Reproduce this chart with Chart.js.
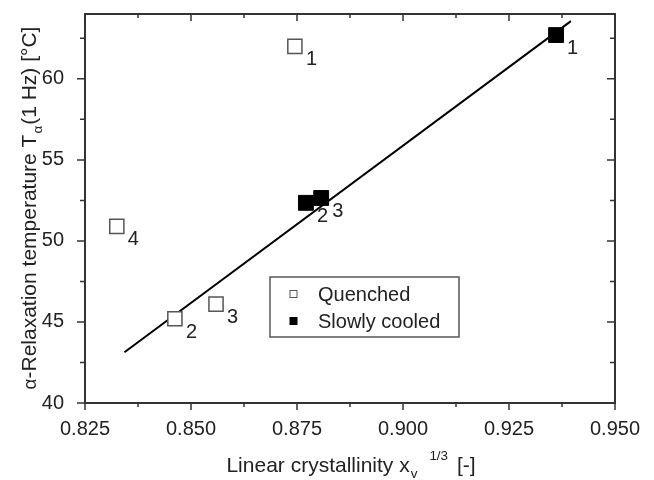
<!DOCTYPE html>
<html lang="en">
<head>
<meta charset="UTF-8">
<title>Alpha relaxation temperature vs linear crystallinity</title>
<script src="https://cdn.jsdelivr.net/npm/chart.js"></script>
<style>
    * { margin: 0; padding: 0; box-sizing: border-box; }
    body { background: #fff; width: 654px; height: 480px; overflow: hidden; }
</style>
</head>
<body>
<canvas id="chart" width="654" height="480"></canvas>
<script>
    // values
    const quenchedX = [0.8745, 0.8462, 0.8559, 0.8325];
    const quenchedY = [62.0, 45.2, 46.1, 50.9];
    const quenchedLabels = ['1', '2', '3', '4'];

    const cooledX = [0.9361, 0.8771, 0.8807];
    const cooledY = [62.7, 52.35, 52.65];
    const cooledLabels = ['1', '2', '3'];

    // linear fit through the points
    const fitX = [0.8343, 0.9396];
    const fitY = [43.13, 63.56];

    const xTicks = [0.825, 0.850, 0.875, 0.900, 0.925, 0.950];
    const yTicks = [40, 45, 50, 55, 60];
    const xMinor = [0.8375, 0.8625, 0.8875, 0.9125, 0.9375];
    const yMinor = [42.5, 47.5, 52.5, 57.5, 62.5];

    const FONT = "'Liberation Sans', Arial, sans-serif";
    const TEXT = '#222';
    const AXIS = '#333';

    const toPoints = (xs, ys) => xs.map((x, i) => ({ x: x, y: ys[i] }));

    // strings made of runs (normal / sub / sup), drawn from a baseline point
    function runSize(r, size) {
        return r.sub || r.sup ? size * 0.64 : (r.scale || 1) * size;
    }
    function runsWidth(ctx, runs, size) {
        let w = 0;
        runs.forEach(r => {
            ctx.font = runSize(r, size) + 'px ' + FONT;
            w += ctx.measureText(r.t).width + (r.dx || 0);
        });
        return w;
    }
    function drawRuns(ctx, runs, x, y, size) {
        runs.forEach(r => {
            ctx.font = runSize(r, size) + 'px ' + FONT;
            let dy = 0;
            if (r.sub) dy = size * 0.3;
            if (r.sup) dy = -size * 0.55;
            x += r.dx || 0;
            ctx.fillText(r.t, x, y + dy);
            x += ctx.measureText(r.t).width;
        });
    }

    const frameAndText = {
        id: 'frameAndText',
        afterDatasetsDraw(chart) {
            const ctx = chart.ctx;
            const a = chart.chartArea;
            const xs = chart.scales.x, ys = chart.scales.y;
            ctx.save();

            // frame
            ctx.strokeStyle = AXIS;
            ctx.lineWidth = 2;
            ctx.strokeRect(a.left, a.top, a.right - a.left, a.bottom - a.top);

            // ticks: outward on bottom/left, inward on top/right
            ctx.lineWidth = 1.5;
            ctx.beginPath();
            const xTick = (v, len) => {
                const p = xs.getPixelForValue(v);
                ctx.moveTo(p, a.bottom); ctx.lineTo(p, a.bottom + len);
                ctx.moveTo(p, a.top); ctx.lineTo(p, a.top + len);
            };
            const yTick = (v, len) => {
                const p = ys.getPixelForValue(v);
                ctx.moveTo(a.left, p); ctx.lineTo(a.left - len, p);
                ctx.moveTo(a.right, p); ctx.lineTo(a.right - len, p);
            };
            xTicks.forEach(v => xTick(v, 7));
            xMinor.forEach(v => xTick(v, 4));
            yTicks.forEach(v => yTick(v, 8));
            yMinor.forEach(v => yTick(v, 5));
            ctx.stroke();

            // point numbers
            ctx.fillStyle = TEXT;
            ctx.font = '20px ' + FONT;
            ctx.textAlign = 'left';
            ctx.textBaseline = 'alphabetic';
            const label = (xv, yv, labs) => xv.forEach((x, i) => {
                ctx.fillText(labs[i], xs.getPixelForValue(x) + 11, ys.getPixelForValue(yv[i]) + 19);
            });
            label(quenchedX, quenchedY, quenchedLabels);
            label(cooledX, cooledY, cooledLabels);

            // legend
            const lx = 270, ly = 277, lw = 189, lh = 60;
            ctx.fillStyle = '#fff';
            ctx.fillRect(lx, ly, lw, lh);
            ctx.strokeStyle = '#555';
            ctx.lineWidth = 1.5;
            ctx.strokeRect(lx, ly, lw, lh);
            chart.data.datasets.slice(0, 2).forEach((ds, i) => {
                const cy = ly + 17 + i * 27;
                ctx.fillStyle = ds.backgroundColor;
                ctx.fillRect(lx + 20, cy - 3.5, 7, 7);
                ctx.strokeStyle = ds.borderColor;
                ctx.lineWidth = 1;
                ctx.strokeRect(lx + 20, cy - 3.5, 7, 7);
                ctx.fillStyle = TEXT;
                ctx.font = '20px ' + FONT;
                ctx.textBaseline = 'middle';
                ctx.fillText(ds.label, lx + 48, cy + 1);
            });

            // axis titles
            ctx.textBaseline = 'alphabetic';
            ctx.fillStyle = TEXT;
            const xRuns = [{ t: 'Linear crystallinity x' }, { t: 'v', sub: true, dx: 1 }, { t: '1/3', sup: true, dx: 12 }, { t: ' [-]', dx: 3 }];
            const xw = runsWidth(ctx, xRuns, 21);
            drawRuns(ctx, xRuns, 351 - xw / 2, 472, 21);

            const yRuns = [{ t: 'α', scale: 0.9 }, { t: '-Relaxation temperature T' }, { t: 'α', sub: true, dx: 1 }, { t: '(1 Hz) [°C]', dx: 1 }];
            const yw = runsWidth(ctx, yRuns, 21);
            ctx.translate(36, 208);
            ctx.rotate(-Math.PI / 2);
            drawRuns(ctx, yRuns, -yw / 2, 0, 21);
            ctx.restore();
        }
    };

    const noPad = s => { s.paddingTop = 0; s.paddingBottom = 0; s.paddingLeft = 0; s.paddingRight = 0; };

    new Chart(document.getElementById('chart'), {
        type: 'scatter',
        data: {
            datasets: [{
                label: 'Quenched',
                data: toPoints(quenchedX, quenchedY),
                pointStyle: 'rect',
                pointRadius: 10,
                backgroundColor: '#fff',
                borderColor: '#555',
                borderWidth: 1.5
            }, {
                label: 'Slowly cooled',
                data: toPoints(cooledX, cooledY),
                pointStyle: 'rect',
                pointRadius: 10.5,
                backgroundColor: '#000',
                borderColor: '#000',
                borderWidth: 1
            }, {
                label: 'fit',
                data: toPoints(fitX, fitY),
                showLine: true,
                pointRadius: 0,
                borderColor: '#000',
                borderWidth: 2,
                order: 5
            }]
        },
        options: {
            responsive: false,
            animation: false,
            layout: { padding: { top: 14, right: 39, left: 0, bottom: 0 } },
            plugins: {
                legend: { display: false },
                tooltip: { enabled: false }
            },
            scales: {
                x: {
                    type: 'linear',
                    min: 0.825,
                    max: 0.95,
                    grid: { display: false },
                    border: { display: false },
                    afterBuildTicks: s => { s.ticks = xTicks.map(v => ({ value: v })); },
                    afterFit: s => { s.height = 77; noPad(s); },
                    ticks: {
                        padding: 6,
                        maxRotation: 0,
                        autoSkip: false,
                        color: TEXT,
                        font: { family: FONT, size: 20 },
                        callback: v => v.toFixed(3)
                    }
                },
                y: {
                    min: 40,
                    max: 64,
                    grid: { display: false },
                    border: { display: false },
                    afterBuildTicks: s => { s.ticks = yTicks.map(v => ({ value: v })); },
                    afterFit: s => { s.width = 85; noPad(s); },
                    ticks: {
                        padding: 13,
                        color: TEXT,
                        font: { family: FONT, size: 20 }
                    }
                }
            }
        },
        plugins: [frameAndText]
    });
</script>
</body>
</html>
